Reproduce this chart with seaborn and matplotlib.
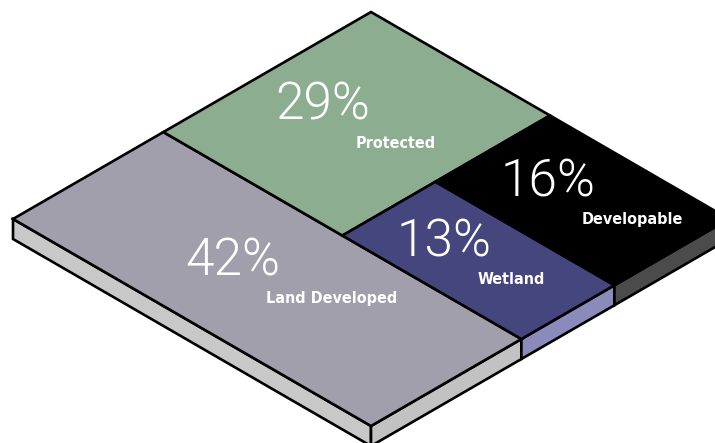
import numpy as np
import matplotlib
matplotlib.use("Agg")
import matplotlib.pyplot as plt
from matplotlib.patches import Polygon
import seaborn as sns

# data
categories = ["Land Developed", "Protected", "Wetland", "Developable"]
shares = [42, 29, 13, 16]
top_colors = ["#a09fab", "#8cad8f", "#46467e", "#000000"]
side_colors = ["#c2c2c2", None, "#8a8abb", "#4b4b4b"]

# isometric frame (pixels): left corner, u-axis and v-axis vectors, slab depth
ORIGIN = np.array([13.0, 219.0])
U_VEC = np.array([358.0, -207.0])
V_VEC = np.array([358.0, 207.0])
DEPTH = 20.0
LEFT_FACE = "#c8c8c8"


def proj(u, v, down=0.0):
    p = ORIGIN + u * U_VEC + v * V_VEC
    return (p[0], p[1] + down)


def layout(vals):
    # slice-and-dice: first block spans full v, then one row on top,
    # then the rest split along u
    tot = float(sum(vals))
    rects = []
    u1 = vals[0] / tot
    rects.append((0.0, u1, 0.0, 1.0))
    rest = tot - vals[0]
    v1 = vals[1] / rest
    rects.append((u1, 1.0, 0.0, v1))
    w = 1.0 - u1
    sub = vals[2] + vals[3]
    u2 = u1 + w * vals[2] / sub
    rects.append((u1, u2, v1, 1.0))
    rects.append((u2, 1.0, v1, 1.0))
    return rects


sns.set_style("white")
fig = plt.figure(figsize=(7.15, 4.43), dpi=100)
ax = fig.add_axes([0, 0, 1, 1])
ax.set_xlim(0, 715)
ax.set_ylim(443, 0)
ax.set_aspect("equal")
ax.axis("off")

rects = layout(shares)
lw = 1.9

# left front face (u = 0)
ax.add_patch(Polygon([proj(0, 0), proj(0, 1), proj(0, 1, DEPTH), proj(0, 0, DEPTH)],
                     closed=True, facecolor=LEFT_FACE, edgecolor="black", lw=lw, zorder=1))

# right front faces (v = 1)
for (u0, u1, v0, v1), sc in zip(rects, side_colors):
    if v1 < 1.0 or sc is None:
        continue
    ax.add_patch(Polygon([proj(u0, 1), proj(u1, 1), proj(u1, 1, DEPTH), proj(u0, 1, DEPTH)],
                         closed=True, facecolor=sc, edgecolor="black", lw=lw, zorder=1))

# top faces
for (u0, u1, v0, v1), tc in zip(rects, top_colors):
    ax.add_patch(Polygon([proj(u0, v0), proj(u1, v0), proj(u1, v1), proj(u0, v1)],
                         closed=True, facecolor=tc, edgecolor="black", lw=lw, zorder=2,
                         joinstyle="miter"))

# labels
for (u0, u1, v0, v1), name, val in zip(rects, categories, shares):
    cx, cy = proj((u0 + u1) / 2, (v0 + v1) / 2)
    ax.text(cx + 13, cy - 4, f"{val}%", color="white", fontsize=37,
            family=["Roboto", "DejaVu Sans"], weight=300,
            ha="right", va="baseline", zorder=3)
    ax.text(cx - 1, cy + 24, name, color="white", fontsize=11.5,
            family="DejaVu Sans", stretch="condensed", weight="bold",
            ha="left", va="baseline", zorder=3)

fig.savefig("out.png", dpi=100)
